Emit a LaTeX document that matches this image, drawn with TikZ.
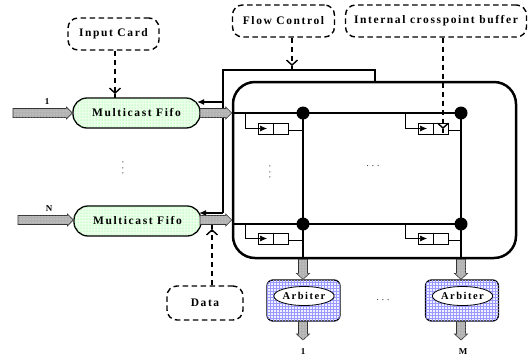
\documentclass[tikz,border=0pt]{standalone}
\usepackage{fontspec}
\setmainfont{Liberation Serif}
\newfontfamily\lblfont[LetterSpace=14]{Liberation Serif}
\usetikzlibrary{arrows.meta,calc,patterns,shapes.geometric}

\newcommand\harrow[2]{%
  \draw[fatarrow] let \p1=(#1), \p2=(#2) in
   (\x1,\y1+4.5pt) -- (\x2-6pt,\y1+4.5pt) -- (\x2-6pt,\y1+6pt) -- (\x2,\y1)
   -- (\x2-6pt,\y1-6pt) -- (\x2-6pt,\y1-4.5pt) -- (\x1,\y1-4.5pt) -- cycle;}
\newcommand\varrow[2]{%
  \draw[fatarrow] let \p1=(#1), \p2=(#2) in
   (\x1-4.5pt,\y1) -- (\x1-4.5pt,\y2+6pt) -- (\x1-6.5pt,\y2+6pt) -- (\x1,\y2)
   -- (\x1+6.5pt,\y2+6pt) -- (\x1+4.5pt,\y2+6pt) -- (\x1+4.5pt,\y1) -- cycle;}

\begin{document}
\begin{tikzpicture}[x=1pt,y=-1pt,
  lbl/.style={font=\lblfont\bfseries\fontsize{11.5}{13}\selectfont},
  dbox/.style={lbl, draw, line width=1.4pt, dash pattern=on 5.5pt off 3.5pt,
     rounded corners=10pt, inner sep=0pt},
  fifo/.style={lbl, draw, line width=1.3pt, rounded corners=14pt,
     minimum width=127pt, minimum height=30pt, inner sep=0pt,
     fill=green!8, postaction={pattern=dots, pattern color=green!60}},
  fatarrow/.style={draw=black!80, line width=0.6pt, fill=gray!60,
     postaction={pattern=dots, pattern color=gray!15}},
  bus/.style={line width=2.2pt},
  fb/.style={line width=1.5pt},
  xdot/.style={circle, fill=black, minimum size=13pt, inner sep=0pt},
  buf/.style={draw, line width=0.6pt, minimum width=30pt, minimum height=11pt, inner sep=0pt},
  thinarr/.style={line width=0.6pt, -{Latex[length=7pt,width=6pt]}},
  ylink/.style={line width=1.4pt, dash pattern=on 5.5pt off 3.5pt,
     -{Straight Barb[length=5pt,width=11pt]}},
  stem/.style={line width=1.4pt},
  arb/.style={draw, line width=1.3pt, rounded corners=6pt, minimum width=73pt,
     minimum height=41pt, fill=blue!6, postaction={pattern=grid, pattern color=blue!40}},
  ell/.style={ellipse, draw, line width=0.8pt, fill=white, minimum width=52pt,
     minimum height=19pt, inner sep=0pt, font=\lblfont\bfseries\fontsize{10.5}{12}\selectfont},
  num/.style={font=\bfseries\fontsize{9}{10}\selectfont, inner sep=0pt},
  dots/.style={font=\fontsize{9}{10}\selectfont, inner sep=0pt}]
\useasboundingbox (0,0) rectangle (529,357);

% label boxes
\node[dbox, minimum width=91pt, minimum height=32pt] (ic) at (113.5,34) {Input Card};
\node[dbox, minimum width=102pt, minimum height=32pt] (fc) at (283.5,21) {Flow Control};
\node[dbox, minimum width=181pt, minimum height=32pt] (ib) at (436,21) {Internal crosspoint buffer};
\node[dbox, minimum width=76pt, minimum height=34pt] (da) at (205,303) {Data};

% matrix box
\node[draw, line width=2.5pt, rounded corners=22pt, minimum width=283pt,
      minimum height=176pt] (mx) at (374.5,170) {};

% fifos
\node[fifo] (f1) at (136.5,113) {Multicast Fifo};
\node[fifo] (fN) at (137.5,221) {Multicast Fifo};

% feedback / flow control lines
\coordinate (fbT) at (223,70);
\coordinate (fbR) at (375,70);
\coordinate (fbB) at (223,213);
\coordinate (fb1) at (223,102);
\coordinate (fb1t) at (197,102);
\coordinate (fbNt) at (199,213);
\draw[fb] (fbB) -- (fbT) -- (fbR) -- (mx.north -| fbR);
\draw[fb,-{Latex[length=7pt,width=6pt]}] (fb1) -- (fb1t);
\draw[fb,-{Latex[length=7pt,width=6pt]}] (fbB) -- (fbNt);

% inputs
\coordinate (in1) at (13,113);
\coordinate (inN) at (18,220);
\harrow{in1}{f1.west}
\harrow{inN}{fN.west |- inN}
\node[num] (l1) at (47,102) {1};
\node[num] (lN) at (49,209) {N};
\coordinate (o1) at (200,113);
\coordinate (oN) at (200,220);
\harrow{o1}{mx.west |- o1}
\harrow{oN}{mx.west |- oN}

% crosspoints
\coordinate (x11) at (303,113);
\coordinate (x12) at (461,113);
\coordinate (x21) at (303,224);
\coordinate (x22) at (461,224);
\draw[bus] (mx.west |- x11) -- (x12);
\draw[bus] (mx.west |- x21) -- (x22);
\draw[bus] (x11) -- (mx.south -| x11);
\draw[bus] (x12) -- (mx.south -| x12);

% buffers
\node[buf] (b11) at (273,128.5) {};
\node[buf] (b21) at (273,238.5) {};
\node[buf] (b12) at (433,128.5) {};
\node[buf] (b22) at (433,238.5) {};
\foreach \b in {b11,b21,b12,b22}{\draw[line width=0.6pt] (\b.north) -- (\b.south);}
\coordinate (t11) at (245,113);
\coordinate (t21) at (245,224);
\coordinate (t12) at (405,113);
\coordinate (t22) at (405,224);
\draw[thinarr] (t11) |- ([xshift=-6pt]b11.center);
\draw[thinarr] (t21) |- ([xshift=-6pt]b21.center);
\draw[thinarr] (t12) |- ([xshift=-6pt]b12.center);
\draw[thinarr] (t22) |- ([xshift=-6pt]b22.center);
\draw[line width=0.6pt] ([yshift=-1.5pt]b11.east) -| (x11);
\draw[line width=0.6pt] ([yshift=-1.5pt]b21.east) -| (x21);
\draw[line width=0.6pt] ([yshift=-1.5pt]b12.east) -| (x12);
\draw[line width=0.6pt] ([yshift=-1.5pt]b22.east) -| (x22);

\node[xdot] (p11) at (x11) {};
\node[xdot] (p12) at (x12) {};
\node[xdot] (p21) at (x21) {};
\node[xdot] (p22) at (x22) {};

% arbiters
\node[arb] (a1) at (303.5,300.5) {};
\node[arb] (a2) at (462,300.5) {};
\node[ell] (e1) at (304,296) {Arbiter};
\node[ell] (e2) at (462.5,296) {Arbiter};
\varrow{mx.south -| x11}{a1.north -| x11}
\varrow{mx.south -| x12}{a2.north -| x12}
\coordinate (out1) at (303,340);
\coordinate (out2) at (461,340);
\varrow{a1.south -| out1}{out1}
\varrow{a2.south -| out2}{out2}
\node[num] (m1) at (303,352) {1};
\node[num] (mM) at (463,352) {M};

% dashed pointers
\coordinate (icT) at (115,98);
\draw[ylink] (ic.south -| icT) -- ([yshift=4pt]icT);
\draw[stem] ([yshift=4pt]icT) -- (icT);
\coordinate (fcT) at (292,70);
\draw[ylink] (fc.south -| fcT) -- ([yshift=4pt]fcT);
\draw[stem] ([yshift=4pt]fcT) -- (fcT);
\coordinate (ibT) at (443,133);
\draw[ylink] (ib.south -| ibT) -- ([yshift=4pt]ibT);
\draw[stem] ([yshift=4pt]ibT) -- (ibT);
\coordinate (dT) at (212,225);
\draw[ylink] (da.north -| dT) -- ([yshift=-4pt]dT);
\draw[stem] ([yshift=-4pt]dT) -- (dT);

% ellipsis dots
\node[dots, rotate=90] (v1) at (123,168) {. . .};
\node[dots, rotate=90] (v2) at (270,172) {. . .};
\node[dots] (h1) at (373,166) {. . .};
\node[dots] (h2) at (383,300) {. . .};
\end{tikzpicture}
\end{document}
